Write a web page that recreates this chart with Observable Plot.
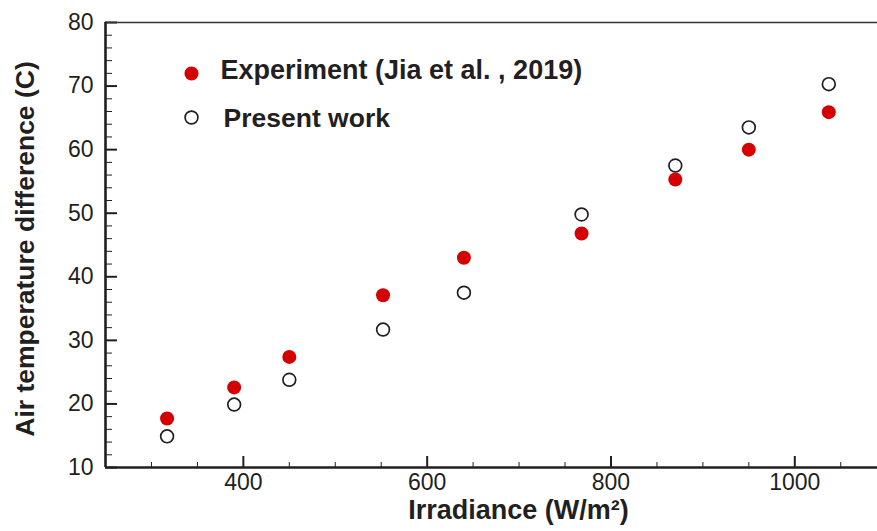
<!DOCTYPE html>
<html>
<head>
<meta charset="utf-8">
<script src="https://cdn.jsdelivr.net/npm/d3@7"></script>
<script src="https://cdn.jsdelivr.net/npm/@observablehq/plot@0.6"></script>
<style>
  html, body { margin: 0; padding: 0; background: #fff; }
  #chart svg { display: block; }
</style>
</head>
<body>
<div id="chart"></div>
<script>
// Data
const irradiance  = [317, 390, 450, 552, 640, 768, 870, 950, 1037];
const experiment  = [17.7, 22.6, 27.4, 37.1, 43.0, 46.8, 55.3, 60.0, 65.9];
const presentWork = [14.9, 19.9, 23.8, 31.7, 37.5, 49.8, 57.5, 63.5, 70.3];

const xTicks = [400, 600, 800, 1000];
const xMinorTicks = [250, 300, 350, 450, 500, 550, 650, 700, 750, 850, 900, 950, 1050];
const yTicks = [10, 20, 30, 40, 50, 60, 70, 80];
const yMinorTicks = d3.range(10, 80.01, 2).filter(v => v % 10 !== 0);

const xDomain = [250, 1090];
const yDomain = [10, 80];

const seriesLabels = ["Experiment (Jia et al. , 2019)", "Present work"];
const xLabel = "Irradiance (W/m²)";
const yLabel = "Air temperature difference (C)";

const rows = irradiance.map((x, i) => ({x, exp: experiment[i], pres: presentWork[i]}));

const ink = "#231f20";
const red = "#d50000";

const chart = Plot.plot({
  width: 877,
  height: 531,
  marginLeft: 105,
  marginRight: 0,
  marginTop: 22,
  marginBottom: 64,
  style: {fontFamily: "'Liberation Sans', Arial, sans-serif", color: ink, background: "#fff"},
  x: {domain: xDomain},
  y: {domain: yDomain},
  marks: [
    // minor ticks (inward)
    Plot.axisX({ticks: xMinorTicks, tickSize: -5, text: null, label: null, stroke: ink, strokeWidth: 1}),
    Plot.axisY({ticks: yMinorTicks, tickSize: -7, text: null, label: null, stroke: ink, strokeWidth: 1}),
    // major ticks + labels
    Plot.axisX({ticks: xTicks, tickFormat: d => String(d), tickSize: -11, tickPadding: 17, label: null, fontSize: 23, stroke: ink, strokeWidth: 2, fill: ink}),
    Plot.axisY({ticks: yTicks, tickFormat: d => String(d), tickSize: -12, tickPadding: 24, label: null, fontSize: 23, stroke: ink, strokeWidth: 2, fill: ink}),
    // frame lines
    Plot.ruleY([yDomain[1]], {stroke: "#333", strokeWidth: 1.5}),
    Plot.ruleX([xDomain[0]], {stroke: ink, strokeWidth: 2.6}),
    Plot.ruleY([yDomain[0]], {stroke: ink, strokeWidth: 2.6}),
    // data
    Plot.dot(rows, {x: "x", y: "exp", r: 7, fill: red, stroke: "none"}),
    Plot.dot(rows, {x: "x", y: "pres", r: 6.4, fill: "none", stroke: ink, strokeWidth: 1.7}),
    // legend
    Plot.dot([seriesLabels[0]], {frameAnchor: "top-left", dx: 86, dy: 51, r: 7, fill: red, stroke: "none"}),
    Plot.dot([seriesLabels[1]], {frameAnchor: "top-left", dx: 86, dy: 95, r: 6.4, fill: "none", stroke: ink, strokeWidth: 1.7}),
    Plot.text([seriesLabels[0]], {text: d => d, frameAnchor: "top-left", dx: 115, dy: 48, textAnchor: "start", lineAnchor: "middle", fontSize: 27, fontWeight: "bold", fill: ink}),
    Plot.text([seriesLabels[1]], {text: d => d, frameAnchor: "top-left", dx: 118, dy: 96, textAnchor: "start", lineAnchor: "middle", fontSize: 26.5, fontWeight: "bold", fill: ink}),
    // axis titles
    Plot.text([xLabel], {text: d => d, frameAnchor: "bottom", dx: 27, dy: 43, textAnchor: "middle", lineAnchor: "middle", fontSize: 27, fontWeight: "bold", fill: ink}),
    Plot.text([yLabel], {text: d => d, frameAnchor: "left", dx: -80, dy: 4, rotate: -90, textAnchor: "middle", lineAnchor: "middle", fontSize: 26.5, fontWeight: "bold", fill: ink})
  ]
});
document.getElementById("chart").appendChild(chart);
</script>
</body>
</html>
